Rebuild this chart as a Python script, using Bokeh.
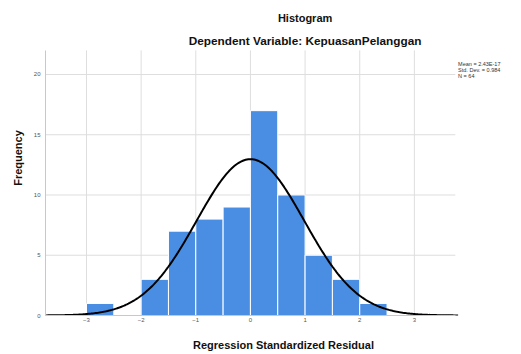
import numpy as np
from bokeh.plotting import figure
from bokeh.models import ColumnDataSource, FixedTicker
from bokeh.core.properties import value
from bokeh.embed import file_html
from bokeh.resources import INLINE

# Data
bin_left = [-3.0, -2.5, -2.0, -1.5, -1.0, -0.5, 0.0, 0.5, 1.0, 1.5, 2.0]
counts = [1, 0, 3, 7, 8, 9, 17, 10, 5, 3, 1]
bin_width = 0.5
mean_val = 2.43e-17
std_val = 0.984
n_val = 64
x_ticks = [-3, -2, -1, 0, 1, 2, 3]
y_ticks = [0, 5, 10, 15, 20]
stats_lines = ["Mean = 2.43E-17", "Std. Dev. = 0.984", "N = 64"]
title_text = "Histogram"
subtitle_text = "Dependent Variable: KepuasanPelanggan"

FONT = "Liberation Sans"
X_LO, X_HI = -3.75, 3.75     # plot area
Y_HI = 22.0

p = figure(width=521, height=354, output_backend="svg", toolbar_location=None,
           x_range=(X_LO, 4.96), y_range=(0, 26.14),
           min_border_left=45, min_border_right=0, min_border_top=0, min_border_bottom=39)
p.outline_line_color = None
p.background_fill_color = "white"
p.xgrid.visible = False
p.ygrid.visible = False

# grid lines (restricted to the plot area)
p.segment(x0=x_ticks, x1=x_ticks, y0=[0] * len(x_ticks), y1=[Y_HI] * len(x_ticks),
          line_color="#dedede", line_width=1)
p.segment(x0=[X_LO] * len(y_ticks), x1=[X_HI] * len(y_ticks), y0=y_ticks, y1=y_ticks,
          line_color="#dedede", line_width=1)

src = ColumnDataSource(dict(left=bin_left,
                            right=[b + bin_width for b in bin_left],
                            top=counts,
                            bottom=[0] * len(counts)))
p.quad(left="left", right="right", top="top", bottom="bottom", source=src,
       fill_color="#4a8ee4", line_color="white", line_width=1)

xs = np.linspace(X_LO, X_HI + 0.05, 300)
ys = n_val * bin_width / (std_val * np.sqrt(2 * np.pi)) * np.exp(-0.5 * ((xs - mean_val) / std_val) ** 2)
p.line(xs, ys, line_color="black", line_width=2)

for ax in (p.xaxis, p.yaxis):
    ax.axis_line_color = "#c8c8c8"
    ax.major_tick_line_color = None
    ax.minor_tick_line_color = None
    ax.major_tick_out = 0
    ax.major_tick_in = 0
    ax.minor_tick_out = 0
    ax.minor_tick_in = 0
    ax.major_label_text_font_size = "6px"
    ax.major_label_text_color = "#555555"
    ax.major_label_text_font = FONT
    ax.axis_label_text_font = FONT
    ax.axis_label_text_font_size = "11px"
    ax.axis_label_text_font_style = "bold"
    ax.axis_label_text_color = "#111111"

p.xaxis.ticker = FixedTicker(ticks=x_ticks)
p.yaxis.ticker = FixedTicker(ticks=y_ticks)
p.xaxis.bounds = (X_LO, X_HI)
p.yaxis.bounds = (0, Y_HI)
p.xaxis.axis_label = "Regression Standardized Residual"
p.yaxis.axis_label = "Frequency"
p.xaxis.major_label_standoff = 2
p.xaxis.axis_label_standoff = 14
p.yaxis.major_label_standoff = 5
p.yaxis.axis_label_standoff = 7

# Titles
p.text(x=[1.0], y=[24.65], text=[title_text], text_align="center", text_baseline="middle",
       text_font=value(FONT), text_font_size="11px", text_font_style="bold", text_color="#111111")
p.text(x=[1.0], y=[22.82], text=[subtitle_text], text_align="center", text_baseline="middle",
       text_font=value(FONT), text_font_size="11.8px", text_font_style="bold", text_color="#111111")

# Stats box
p.text(x=[3.80] * 3, y=[20.85, 20.37, 19.89], text=stats_lines, text_align="left",
       text_baseline="middle", text_font=value(FONT), text_font_size="5.5px", text_color="#333333")

open("out.html", "w").write(file_html(p, INLINE))
